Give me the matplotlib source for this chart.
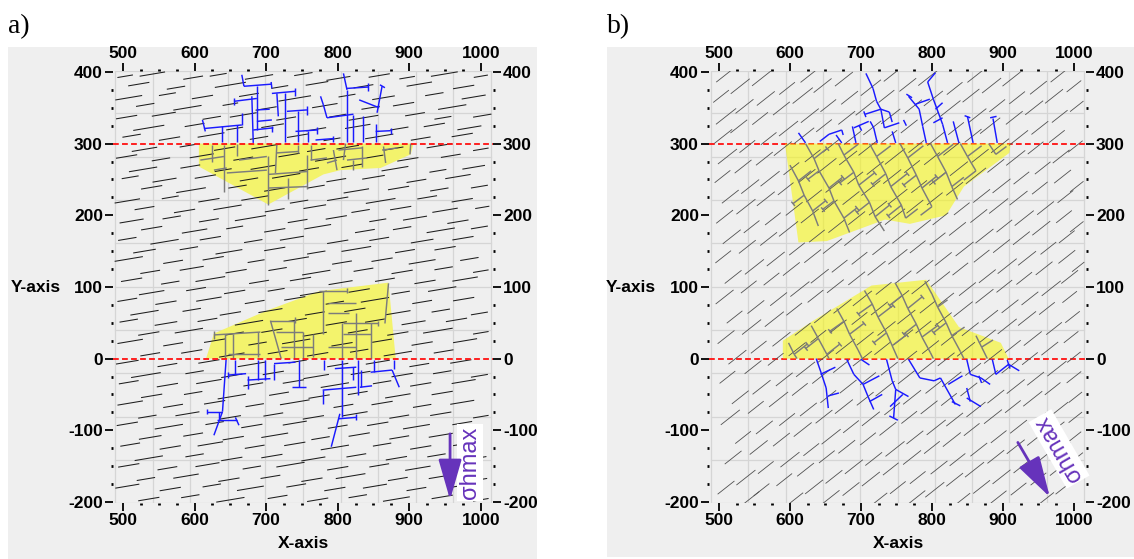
import numpy as np
import matplotlib
matplotlib.use("Agg")
import matplotlib.pyplot as plt
from matplotlib.collections import LineCollection
from matplotlib.patches import Polygon, Rectangle
from matplotlib.ticker import FixedLocator, MultipleLocator

W, H = 1134, 559
BG = "#efefef"
GRID_C = "#d5d5d5"
YELLOW_A = "#f3f36c"
YELLOW_B = "#f6f618"
BLUE = "#1a1aff"
NET_GRAY = "#7c7c7c"
RED = "#ff1010"
PURPLE = "#6633bb"

XLIM = (486, 1017)
YLIM = (-201.5, 402)
XTICKS = [500, 600, 700, 800, 900, 1000]
YTICKS = [-200, -100, 0, 100, 200, 300, 400]
GRID_X = [489, 541.5, 594, 646.5, 699, 751.5, 804, 856.5, 909, 961.5, 1014]
GRID_Y = [-201.5, -141, -80.8, -20.4, 40, 100.4, 160.8, 221.2, 281.6, 342, 402]
WELL_Y = [300, 0]

# natural fractures: centre x, centre y, length
NF_A_ANGLE = 9.5
NF_A = [
    (503, 394, 22), (541, 397, 36), (598, 392, 28), (633, 396, 24), (690, 393, 40), (752, 397, 26), (801, 391, 34), (858, 395, 30), (897, 392, 22), (949, 397, 38), (1000, 394, 20),
    (522, 383, 30), (574, 378, 26), (650, 382, 44), (719, 379, 24), (771, 384, 32), (836, 380, 28), (914, 383, 36), (976, 379, 30),
    (508, 364, 38), (562, 369, 24), (611, 365, 30), (676, 368, 28), (740, 363, 46), (813, 367, 24), (864, 364, 32), (935, 369, 26), (990, 365, 34),
    (531, 354, 26), (590, 350, 40), (650, 355, 22), (700, 349, 30), (782, 353, 36), (846, 350, 26), (892, 355, 30), (960, 351, 40),
    (505, 337, 30), (557, 341, 34), (624, 336, 26), (668, 340, 38), (728, 335, 28), (800, 339, 24), (836, 336, 42), (908, 341, 28), (947, 336, 24), (1002, 339, 26),
    (536, 322, 44), (600, 326, 28), (656, 321, 24), (709, 325, 32), (770, 320, 28), (828, 324, 36), (886, 321, 26), (935, 326, 30), (984, 322, 34),
    (512, 311, 26), (565, 307, 30), (623, 312, 38), (690, 308, 26), (744, 311, 30), (792, 306, 24), (858, 310, 40), (916, 307, 28), (974, 312, 30),
    (530, 292, 36), (590, 297, 22), (642, 293, 30), (700, 296, 42), (770, 291, 26), (814, 295, 32), (878, 293, 28), (942, 297, 36), (1000, 292, 22),
    (505, 282, 30), (553, 278, 26), (610, 283, 34), (668, 279, 28), (732, 284, 30), (790, 279, 44), (852, 282, 24), (898, 278, 30), (958, 283, 28),
    (528, 264, 40), (594, 268, 28), (640, 263, 24), (696, 267, 36), (760, 264, 28), (820, 269, 30), (880, 265, 38), (940, 262, 24), (990, 267, 32),
    (510, 253, 24), (558, 249, 34), (615, 254, 30), (676, 250, 26), (728, 255, 40), (798, 249, 28), (850, 253, 32), (910, 248, 28), (968, 254, 36),
    (540, 239, 30), (595, 235, 42), (660, 240, 26), (712, 236, 30), (770, 240, 24), (826, 234, 36), (885, 238, 30), (942, 236, 26), (998, 240, 24),
    (506, 220, 36), (566, 225, 24), (620, 221, 30), (684, 224, 38), (746, 219, 26), (800, 223, 30), (860, 220, 42), (925, 225, 28), (974, 221, 30),
    (530, 210, 28), (586, 206, 30), (646, 211, 40), (712, 207, 28), (768, 212, 32), (832, 206, 26), (888, 210, 30), (950, 207, 36), (1002, 211, 20),
    (512, 192, 34), (568, 197, 26), (620, 193, 28), (678, 196, 44), (744, 192, 28), (798, 197, 30), (856, 193, 24), (908, 196, 34), (968, 191, 30),
    (540, 182, 30), (600, 178, 36), (656, 183, 24), (712, 179, 30), (772, 184, 38), (838, 178, 28), (890, 182, 26), (944, 179, 40), (998, 183, 24),
    (506, 167, 26), (558, 163, 40), (622, 168, 30), (682, 164, 26), (736, 168, 34), (800, 163, 30), (858, 167, 28), (918, 164, 32), (975, 168, 30),
    (530, 150, 32), (592, 154, 26), (648, 149, 38), (712, 153, 30), (770, 148, 26), (826, 153, 42), (894, 150, 28), (950, 154, 30),
    (508, 139, 40), (570, 135, 28), (626, 140, 30), (686, 136, 24), (742, 139, 36), (806, 134, 28), (862, 138, 30), (918, 135, 38), (984, 139, 26),
    (538, 121, 28), (596, 126, 34), (658, 122, 30), (716, 125, 26), (770, 120, 40), (836, 124, 28), (890, 121, 30), (948, 126, 26), (1000, 122, 22),
    (512, 110, 30), (566, 106, 26), (622, 111, 42), (690, 107, 28), (748, 111, 30), (804, 106, 34), (866, 110, 28), (922, 107, 30), (978, 111, 36),
    (540, 92, 36), (602, 97, 28), (656, 93, 30), (714, 96, 24), (766, 91, 38), (830, 95, 30), (888, 92, 26), (946, 97, 40),
    (506, 82, 28), (560, 78, 30), (620, 83, 36), (684, 79, 28), (740, 84, 30), (796, 78, 26), (852, 82, 40), (918, 79, 28), (976, 83, 30),
    (530, 64, 40), (596, 68, 26), (650, 63, 30), (706, 67, 34), (768, 63, 28), (824, 68, 30), (884, 64, 36), (944, 67, 26), (998, 63, 24),
    (508, 53, 26), (560, 49, 32), (618, 54, 28), (676, 50, 40), (744, 54, 26), (798, 49, 30), (852, 53, 28), (906, 50, 34), (966, 54, 30),
    (536, 35, 30), (592, 39, 40), (656, 35, 26), (708, 39, 30), (768, 34, 34), (828, 38, 28), (884, 35, 30), (940, 39, 42), (1000, 36, 22),
    (510, 24, 36), (570, 20, 28), (628, 25, 30), (688, 21, 26), (742, 24, 40), (806, 20, 30), (862, 25, 28), (918, 21, 30), (978, 25, 34),
    (538, 6, 28), (596, 10, 30), (652, 5, 36), (716, 9, 28), (772, 6, 30), (830, 11, 26), (884, 7, 40), (948, 10, 28),
    (506, -5, 32), (562, -9, 28), (620, -4, 30), (680, -8, 40), (744, -4, 26), (800, -9, 30), (856, -5, 34), (914, -9, 28), (972, -4, 30),
    (532, -23, 42), (600, -19, 26), (652, -24, 30), (710, -20, 30), (770, -25, 36), (832, -20, 28), (890, -23, 30), (946, -19, 26), (998, -24, 24),
    (508, -33, 28), (562, -37, 30), (620, -32, 36), (682, -36, 28), (738, -32, 30), (796, -37, 40), (862, -33, 26), (916, -36, 30), (976, -32, 34),
    (540, -52, 30), (598, -48, 26), (652, -53, 40), (718, -49, 28), (774, -53, 30), (828, -48, 28), (884, -52, 36), (946, -48, 30),
    (510, -62, 36), (570, -66, 28), (628, -61, 30), (684, -65, 26), (740, -61, 42), (808, -66, 28), (862, -62, 30), (918, -66, 26), (974, -61, 34),
    (534, -81, 26), (590, -77, 34), (650, -82, 30), (710, -78, 28), (766, -82, 30), (824, -77, 36), (886, -81, 28), (944, -77, 30), (1000, -81, 22),
    (506, -91, 30), (564, -95, 40), (628, -90, 26), (680, -94, 30), (740, -90, 34), (800, -95, 28), (856, -91, 30), (910, -95, 38), (974, -90, 28),
    (538, -110, 32), (598, -106, 28), (654, -111, 30), (712, -107, 38), (776, -111, 26), (830, -106, 30), (886, -110, 28), (944, -107, 34),
    (510, -120, 28), (566, -124, 30), (622, -119, 36), (684, -123, 28), (740, -119, 30), (796, -124, 40), (862, -120, 26), (916, -124, 30), (976, -119, 30),
    (536, -139, 40), (600, -135, 26), (652, -140, 30), (708, -136, 30), (766, -140, 34), (826, -135, 28), (882, -139, 30), (938, -135, 26), (994, -139, 28),
    (508, -149, 30), (562, -153, 28), (618, -148, 34), (680, -152, 26), (734, -148, 40), (800, -153, 30), (858, -149, 28), (912, -153, 36), (974, -148, 30),
    (532, -168, 26), (588, -164, 36), (648, -169, 30), (706, -165, 28), (764, -169, 30), (818, -164, 42), (884, -168, 28), (942, -165, 30), (998, -169, 22),
    (506, -178, 34), (566, -182, 30), (624, -177, 26), (678, -181, 38), (742, -177, 28), (796, -182, 30), (852, -178, 34), (910, -182, 28), (968, -178, 30),
    (536, -196, 30), (594, -192, 26), (650, -197, 40), (716, -193, 28), (772, -197, 30), (828, -192, 26), (882, -196, 38), (946, -193, 30), (1000, -197, 22),
]

NF_B_ANGLE = 38
NF_B = [
    (508, 395, 30), (560, 391, 34), (626, 394, 28), (676, 390, 32), (744, 396, 30), (795, 392, 36), (861, 394, 28), (912, 390, 32), (979, 395, 30),
    (530, 380, 34), (596, 377, 28), (646, 381, 32), (714, 378, 36), (766, 382, 30), (832, 377, 28), (884, 381, 34), (950, 378, 30), (1000, 380, 26),
    (503, 366, 28), (566, 363, 32), (618, 367, 36), (684, 364, 30), (736, 366, 28), (802, 363, 34), (855, 367, 30), (920, 364, 28), (972, 366, 32),
    (536, 352, 32), (588, 349, 30), (654, 353, 28), (706, 350, 34), (774, 352, 30), (826, 349, 36), (892, 353, 28), (944, 350, 32), (1004, 352, 24),
    (510, 338, 36), (558, 335, 28), (628, 339, 32), (680, 336, 30), (742, 338, 34), (798, 335, 28), (864, 339, 32), (916, 336, 30), (980, 338, 28),
    (528, 324, 30), (598, 321, 34), (648, 325, 28), (716, 322, 32), (768, 324, 30), (834, 321, 28), (882, 325, 36), (952, 322, 30),
    (506, 310, 32), (570, 307, 28), (620, 311, 36), (688, 308, 30), (740, 310, 28), (806, 307, 32), (858, 311, 30), (922, 308, 34), (976, 310, 28),
    (540, 296, 28), (590, 293, 32), (658, 297, 30), (710, 294, 34), (778, 296, 28), (828, 293, 30), (896, 297, 32), (946, 294, 28), (1002, 296, 26),
    (512, 282, 34), (564, 279, 30), (632, 283, 28), (682, 280, 32), (748, 282, 36), (800, 279, 28), (868, 283, 30), (918, 280, 34), (982, 282, 30),
    (534, 268, 30), (602, 265, 28), (652, 269, 34), (720, 266, 30), (772, 268, 28), (838, 265, 32), (890, 269, 30), (956, 266, 28),
    (505, 254, 28), (572, 251, 34), (624, 255, 30), (692, 252, 28), (744, 254, 32), (808, 251, 30), (862, 255, 36), (926, 252, 28), (984, 254, 30),
    (544, 240, 32), (594, 237, 28), (662, 241, 30), (714, 238, 34), (782, 240, 28), (832, 237, 30), (898, 241, 32), (952, 238, 28), (1004, 240, 24),
    (516, 226, 30), (566, 223, 32), (634, 227, 28), (686, 224, 30), (752, 226, 34), (804, 223, 28), (870, 227, 30), (922, 224, 32), (988, 226, 28),
    (538, 212, 34), (606, 209, 30), (656, 213, 28), (724, 210, 32), (776, 212, 30), (842, 209, 28), (894, 213, 34), (960, 210, 30),
    (508, 198, 30), (576, 195, 28), (628, 199, 32), (694, 196, 30), (748, 198, 36), (812, 195, 28), (866, 199, 30), (930, 196, 34), (986, 198, 28),
    (546, 184, 28), (598, 181, 34), (666, 185, 30), (718, 182, 28), (786, 184, 32), (836, 181, 30), (902, 185, 28), (954, 182, 32), (1004, 184, 24),
    (518, 170, 32), (570, 167, 30), (638, 171, 28), (690, 168, 34), (756, 170, 30), (808, 167, 28), (874, 171, 32), (926, 168, 30), (990, 170, 28),
    (540, 156, 30), (610, 153, 28), (660, 157, 34), (728, 154, 30), (780, 156, 28), (846, 153, 32), (898, 157, 30), (964, 154, 28),
    (506, 142, 28), (580, 139, 32), (632, 143, 30), (698, 140, 28), (752, 142, 34), (816, 139, 30), (870, 143, 28), (934, 140, 32), (990, 142, 30),
    (550, 128, 34), (602, 125, 30), (670, 129, 28), (722, 126, 32), (790, 128, 30), (840, 125, 28), (906, 129, 34), (958, 126, 30), (1006, 128, 22),
    (520, 114, 30), (574, 111, 28), (642, 115, 32), (694, 112, 30), (760, 114, 28), (812, 111, 34), (878, 115, 30), (930, 112, 28), (994, 114, 30),
    (542, 100, 28), (614, 97, 34), (664, 101, 30), (732, 98, 28), (784, 100, 32), (850, 97, 30), (902, 101, 28), (968, 98, 34),
    (508, 86, 32), (584, 83, 30), (636, 87, 28), (702, 84, 34), (756, 86, 30), (820, 83, 28), (874, 87, 32), (938, 84, 30), (994, 86, 26),
    (552, 72, 30), (606, 69, 28), (674, 73, 32), (726, 70, 30), (794, 72, 28), (844, 69, 34), (910, 73, 30), (962, 70, 28),
    (522, 58, 28), (578, 55, 34), (646, 59, 30), (698, 56, 28), (764, 58, 32), (816, 55, 30), (882, 59, 28), (934, 56, 32), (998, 58, 26),
    (546, 44, 34), (618, 41, 28), (668, 45, 30), (736, 42, 32), (788, 44, 28), (854, 41, 30), (906, 45, 34), (972, 42, 28),
    (510, 30, 30), (588, 27, 32), (640, 31, 28), (706, 28, 30), (760, 30, 34), (824, 27, 28), (878, 31, 30), (942, 28, 32), (996, 30, 26),
    (556, 16, 28), (610, 13, 30), (678, 17, 34), (730, 14, 28), (798, 16, 30), (848, 13, 32), (914, 17, 28), (966, 14, 30),
    (526, 2, 32), (580, -1, 28), (650, 3, 30), (702, 0, 34), (768, 2, 28), (820, -1, 30), (886, 3, 32), (938, 0, 28), (1000, 2, 24),
    (548, -12, 30), (622, -15, 34), (672, -11, 28), (740, -14, 30), (792, -12, 32), (858, -15, 28), (910, -11, 30), (976, -14, 34),
    (512, -26, 28), (592, -29, 30), (644, -25, 32), (710, -28, 28), (764, -26, 30), (828, -29, 34), (882, -25, 28), (946, -28, 30), (1000, -26, 26),
    (560, -40, 32), (614, -43, 28), (682, -39, 30), (734, -42, 34), (802, -40, 28), (852, -43, 30), (918, -39, 32), (970, -42, 28),
    (530, -54, 30), (584, -57, 34), (654, -53, 28), (706, -56, 30), (772, -54, 32), (824, -57, 28), (890, -53, 30), (942, -56, 34), (1002, -54, 24),
    (552, -68, 28), (626, -71, 30), (676, -67, 32), (744, -70, 28), (796, -68, 30), (862, -71, 34), (914, -67, 28), (980, -70, 30),
    (516, -82, 34), (596, -85, 28), (648, -81, 30), (714, -84, 32), (768, -82, 28), (832, -85, 30), (886, -81, 32), (950, -84, 28), (1002, -82, 24),
    (564, -96, 30), (618, -99, 32), (686, -95, 28), (738, -98, 30), (806, -96, 34), (856, -99, 28), (922, -95, 30), (974, -98, 32),
    (534, -110, 28), (588, -113, 30), (658, -109, 34), (710, -112, 28), (776, -110, 30), (828, -113, 32), (894, -109, 28), (946, -112, 30), (1000, -110, 26),
    (556, -124, 32), (630, -127, 28), (680, -123, 30), (748, -126, 34), (800, -124, 28), (866, -127, 30), (918, -123, 32), (984, -126, 28),
    (520, -138, 30), (600, -141, 34), (652, -137, 28), (718, -140, 30), (772, -138, 32), (836, -141, 28), (890, -137, 30), (954, -140, 34), (1004, -138, 22),
    (566, -152, 28), (622, -155, 30), (690, -151, 32), (742, -154, 28), (810, -152, 30), (860, -155, 34), (926, -151, 28), (978, -154, 30),
    (538, -166, 34), (592, -169, 28), (662, -165, 30), (714, -168, 32), (780, -166, 28), (832, -169, 30), (898, -165, 32), (950, -168, 28),
    (510, -180, 30), (560, -183, 28), (634, -179, 32), (686, -182, 30), (752, -180, 28), (804, -183, 34), (870, -179, 30), (922, -182, 28), (986, -180, 30),
    (546, -194, 28), (606, -197, 32), (658, -193, 30), (726, -196, 28), (778, -194, 32), (842, -197, 30), (894, -193, 28), (960, -196, 30),
]

# stimulated areas
A_POLY_TOP = [(606, 300), (906, 300), (902, 285), (860, 266), (804, 263), (780, 257), (703, 215), (606, 268)]
A_POLY_BOT = [(616, 0), (627, 35), (701, 67), (774, 94), (871, 106), (881, 0)]
B_POLY_TOP = [(593, 300), (911, 300), (909, 287), (845, 240), (820, 200), (769, 188), (734, 194), (652, 164), (612, 162)]
B_POLY_BOT = [(590, 0), (590, 25), (633, 53), (680, 81), (715, 102), (792, 110), (838, 44), (897, 22), (908, 0)]

# fracture networks: x0, y0, x1, y1
A_TOP_BLUE = [
    (666, 396, 669, 380), (669, 380, 708, 383), (707, 386, 708, 377), (687, 380, 687, 319), (680, 366, 682, 301),
    (655, 359, 687, 363), (655, 364, 655, 354), (687, 347, 705, 348), (613, 321, 666, 326), (611, 333, 615, 317),
    (638, 324, 638, 302), (659, 326, 659, 302), (666, 326, 666, 343), (687, 331, 708, 333), (682, 319, 710, 322),
    (708, 325, 708, 316), (715, 370, 717, 338), (727, 370, 727, 302), (708, 370, 741, 373), (741, 378, 741, 367),
    (729, 345, 757, 347), (757, 352, 757, 340), (745, 345, 745, 302), (741, 317, 771, 319), (771, 323, 771, 314),
    (759, 317, 759, 302), (769, 305, 794, 307), (794, 311, 794, 302), (776, 366, 780, 354), (780, 354, 785, 336),
    (785, 336, 822, 341), (808, 398, 813, 375), (813, 375, 813, 302), (813, 377, 843, 379), (843, 384, 843, 374),
    (830, 361, 858, 350), (862, 380, 855, 343), (859, 382, 866, 378), (822, 340, 822, 302), (836, 338, 836, 302),
    (853, 317, 874, 318), (874, 322, 874, 313), (853, 328, 853, 302),
]
A_TOP_GRAY = [
    (624, 298, 624, 275), (608, 277, 641, 282), (641, 298, 641, 233), (627, 263, 645, 266), (659, 300, 659, 282),
    (662, 277, 701, 282), (645, 259, 701, 263), (703, 282, 703, 215), (703, 257, 757, 261), (731, 252, 731, 222),
    (703, 238, 757, 240), (757, 284, 757, 236), (715, 287, 745, 289), (715, 300, 713, 259), (745, 298, 745, 287),
    (762, 298, 762, 277), (762, 277, 785, 280), (794, 291, 799, 263), (785, 273, 799, 277), (801, 291, 834, 294),
    (811, 300, 808, 277), (834, 296, 834, 268), (813, 277, 841, 280), (864, 296, 867, 273), (862, 291, 883, 294),
    (822, 277, 822, 263), (902, 300, 901, 285),
]
A_BOT_BLUE = [
    (644, -2, 639, -74), (639, -74, 627, -107), (617, -74, 639, -74), (617, -70, 617, -78), (632, -86, 659, -86),
    (657, -82, 662, -93), (634, -74, 634, -86), (657, -2, 657, -23), (647, -23, 672, -21), (647, -19, 647, -27),
    (689, -2, 689, -30), (674, -30, 706, -28), (674, -24, 674, -42), (699, -2, 699, -30), (711, -7, 741, -5),
    (711, -7, 711, -30), (746, -2, 746, -40), (736, -40, 756, -40), (781, -2, 781, -16), (806, -2, 806, -81),
    (796, -14, 826, -12), (779, -44, 826, -40), (779, -44, 779, -63), (803, -77, 791, -123), (801, -84, 826, -82),
    (826, -78, 826, -86), (828, -2, 828, -51), (831, -40, 848, -38), (833, -16, 833, -40), (851, -2, 851, -19),
    (846, -19, 876, -16), (878, -2, 878, -14), (876, -16, 886, -40), (821, -12, 821, -30),
]
A_BOT_GRAY = [
    (642, 0, 642, 35), (627, 33, 692, 37), (654, 0, 654, 35), (627, 28, 627, 38), (647, 7, 692, 7), (689, 37, 689, 2),
    (706, 53, 721, 0), (706, 53, 741, 53), (741, 49, 741, 58), (714, 37, 751, 37), (721, 16, 766, 16), (739, 53, 739, 0),
    (751, 37, 751, 0), (766, 35, 766, 2), (779, 95, 779, 35), (774, 95, 813, 95), (813, 91, 813, 99), (786, 77, 826, 77),
    (786, 63, 816, 63), (808, 49, 856, 49), (806, 49, 806, 0), (786, 16, 826, 16), (826, 63, 826, 0), (846, 49, 846, 0),
    (871, 105, 866, 49), (808, 35, 846, 35), (856, 45, 856, 53),
]
B_TOP_BLUE = [
    (612, 315, 622, 301), (642, 303, 655, 313), (655, 313, 673, 319), (673, 319, 675, 312), (665, 312, 673, 301),
    (688, 324, 693, 301), (690, 322, 711, 331), (707, 398, 717, 377), (717, 377, 722, 359), (722, 359, 728, 348),
    (728, 348, 740, 344), (706, 341, 728, 348), (704, 345, 707, 337), (713, 331, 718, 322), (718, 322, 723, 301),
    (733, 322, 754, 329), (744, 317, 749, 301), (764, 369, 772, 364), (767, 366, 782, 348), (777, 355, 797, 362),
    (782, 348, 787, 324), (787, 324, 792, 301), (805, 399, 794, 386), (794, 386, 802, 362), (802, 362, 815, 327),
    (815, 327, 822, 301), (802, 329, 815, 336), (805, 348, 815, 357), (830, 331, 838, 301), (850, 338, 858, 301),
    (846, 339, 854, 336), (886, 335, 892, 301), (882, 336, 891, 338), (740, 344, 744, 330), (728, 348, 733, 322),
    (697, 326, 701, 318), (760, 333, 764, 325),
]
B_TOP_GRAY = [
    (622, 300, 634, 279), (634, 279, 641, 262), (641, 262, 655, 238), (655, 238, 662, 220), (662, 220, 676, 196),
    (676, 196, 684, 176), (634, 279, 652, 293), (641, 262, 625, 250), (655, 238, 674, 253), (662, 220, 646, 208),
    (676, 196, 694, 210), (650, 296, 655, 290), (623, 253, 628, 247), (672, 256, 677, 250), (644, 211, 649, 205),
    (692, 213, 697, 207),
    (668, 300, 676, 284), (676, 284, 690, 260), (690, 260, 697, 242), (697, 242, 712, 218), (712, 218, 720, 198),
    (720, 198, 733, 178), (676, 284, 696, 299), (690, 260, 670, 245), (697, 242, 719, 259), (712, 218, 694, 204),
    (720, 198, 740, 214), (668, 248, 673, 242), (717, 262, 722, 256), (692, 207, 697, 201), (738, 217, 743, 211),
    (712, 300, 722, 282), (722, 282, 735, 258), (735, 258, 742, 240), (742, 240, 757, 214), (757, 214, 763, 196),
    (722, 282, 742, 297), (735, 258, 716, 243), (742, 240, 765, 258), (757, 214, 738, 199), (763, 196, 780, 209),
    (714, 246, 719, 240), (763, 261, 768, 255), (736, 202, 741, 196),
    (755, 300, 766, 280), (766, 280, 778, 256), (778, 256, 786, 238), (786, 238, 800, 212), (766, 280, 788, 297),
    (778, 256, 760, 242), (786, 238, 806, 254), (800, 212, 784, 200), (758, 245, 763, 239), (804, 257, 809, 251),
    (798, 300, 808, 282), (808, 282, 820, 260), (820, 260, 828, 240), (828, 240, 836, 222), (808, 282, 830, 299),
    (820, 260, 802, 246), (828, 240, 845, 253), (800, 249, 805, 243),
    (840, 300, 850, 282), (850, 282, 862, 262), (850, 282, 870, 297), (862, 262, 845, 249), (880, 300, 890, 285),
    (890, 285, 905, 296),
    (600, 270, 612, 248), (612, 248, 620, 228), (620, 228, 632, 206), (632, 206, 640, 185), (612, 248, 630, 262),
    (620, 228, 604, 216), (632, 206, 650, 220), (602, 219, 607, 213), (648, 223, 653, 217),
]
B_BOT_BLUE = [
    (637, 0, 644, -20), (644, -20, 651, -41), (651, -41, 654, -69), (643, -22, 664, -12), (654, -52, 669, -48),
    (680, -1, 690, -22), (690, -22, 703, -36), (703, -36, 710, -53), (710, -53, 718, -71), (703, -36, 726, -24),
    (712, -60, 730, -50), (736, -1, 744, -31), (744, -31, 749, -43), (749, -43, 746, -83), (749, -43, 767, -53),
    (741, -67, 759, -50), (740, -80, 752, -86), (767, -1, 783, -27), (783, -27, 803, -31), (803, -31, 812, -27),
    (812, -27, 833, -64), (823, -36, 843, -24), (828, -60, 840, -66), (849, -1, 854, -22), (854, -22, 869, -27),
    (869, -27, 882, -36), (849, -41, 854, -60), (849, -55, 869, -67), (866, -24, 870, -34), (885, -1, 890, -22),
    (890, -22, 908, -8), (908, -8, 923, -17), (906, -2, 910, -14), (700, -1, 712, -9),
]
B_BOT_GRAY = [
    (598, 22, 606, 6), (606, 6, 610, 0), (606, 6, 624, 20), (622, 23, 627, 17),
    (630, 46, 640, 28), (640, 28, 652, 6), (652, 6, 655, 0), (640, 28, 622, 14), (652, 6, 670, 20),
    (620, 17, 625, 11), (668, 23, 673, 17),
    (666, 70, 676, 52), (676, 52, 684, 34), (684, 34, 696, 12), (696, 12, 702, 0), (676, 52, 656, 38),
    (684, 34, 704, 49), (654, 41, 659, 35), (702, 52, 707, 46),
    (705, 95, 716, 76), (716, 76, 724, 58), (724, 58, 736, 36), (736, 36, 744, 18), (744, 18, 752, 0),
    (716, 76, 696, 62), (724, 58, 745, 74), (736, 36, 718, 22), (744, 18, 764, 33), (694, 65, 699, 59),
    (743, 77, 748, 71), (716, 25, 721, 19), (762, 36, 767, 30),
    (748, 106, 758, 88), (758, 88, 766, 70), (766, 70, 778, 48), (778, 48, 786, 30), (786, 30, 798, 8),
    (798, 8, 802, 0), (758, 88, 740, 74), (766, 70, 786, 86), (778, 48, 760, 34), (786, 30, 808, 46),
    (738, 77, 743, 71), (784, 89, 789, 83), (758, 37, 763, 31), (806, 49, 811, 43),
    (790, 108, 800, 90), (800, 90, 808, 72), (808, 72, 820, 50), (820, 50, 828, 32), (828, 32, 840, 10),
    (840, 10, 845, 0), (808, 72, 822, 82), (820, 50, 802, 36), (828, 32, 846, 44), (800, 39, 805, 33),
    (862, 32, 870, 16), (870, 16, 878, 0), (870, 16, 886, 26),
]

# sigma_hmax arrows: tail, head, label position, label rotation
A_ARROW = ((957, -105), (957, -197), (985, -145), 90)
B_ARROW = ((921, -117), (966, -193), (979, -126), 120)

plt.rcParams["font.family"] = ["Liberation Sans", "DejaVu Sans"]
plt.rcParams["font.weight"] = "bold"
plt.rcParams["axes.unicode_minus"] = False


def nf_segments(nf, angle):
    a = np.array(nf, float)
    t = np.deg2rad(angle)
    dx = a[:, 2] / 2 * np.cos(t)
    dy = a[:, 2] / 2 * np.sin(t)
    p0 = np.c_[a[:, 0] - dx, a[:, 1] - dy]
    p1 = np.c_[a[:, 0] + dx, a[:, 1] + dy]
    return np.stack([p0, p1], axis=1)


def net(segs):
    return np.array(segs, float).reshape(-1, 2, 2)


def panel(ax, nf, angle, nf_color, nf_lw, polys, yellow, blues, grays, arrow, red_on_top):
    ax.set_facecolor(BG)
    ax.set_xlim(*XLIM)
    ax.set_ylim(*YLIM)
    for s in ax.spines.values():
        s.set_visible(False)
    for gx in GRID_X:
        ax.plot([gx, gx], [GRID_Y[0], GRID_Y[-1]], color=GRID_C, lw=0.9, zorder=1)
    for gy in GRID_Y:
        ax.plot([GRID_X[0], GRID_X[-1]], [gy, gy], color=GRID_C, lw=0.9, zorder=1)

    for p in polys:
        if red_on_top:
            ax.add_patch(Polygon(p, closed=True, facecolor=yellow, edgecolor="none", zorder=2))
        else:
            ax.add_patch(Polygon(p, closed=True, facecolor=yellow, edgecolor="none",
                                 alpha=0.6, zorder=2.6))
    ax.add_collection(LineCollection(nf_segments(nf, angle), colors=nf_color,
                                     linewidths=nf_lw, zorder=3))
    for g in grays:
        ax.add_collection(LineCollection(net(g), colors=NET_GRAY, linewidths=1.05, zorder=4))
    for b in blues:
        ax.add_collection(LineCollection(net(b), colors=BLUE, linewidths=1.05, zorder=4))
    for wy in WELL_Y:
        ax.plot(XLIM, [wy, wy], color=RED, lw=1.3, ls=(0, (3.2, 1.8)),
                zorder=5 if red_on_top else 2.5)

    tail, head, lab, rot = arrow
    ax.annotate("", xy=head, xytext=tail,
                arrowprops=dict(arrowstyle="-|>,head_length=1.25,head_width=0.36",
                                color=PURPLE, lw=2, mutation_scale=20, shrinkA=0, shrinkB=0),
                zorder=10)
    ax.text(lab[0], lab[1], "σhmax", rotation=rot, rotation_mode="anchor",
            ha="center", va="center", color=PURPLE, fontsize=17, fontweight="normal",
            bbox=dict(facecolor="white", edgecolor="none", pad=1.5), zorder=9)

    ax.xaxis.set_major_locator(FixedLocator(XTICKS))
    ax.yaxis.set_major_locator(FixedLocator(YTICKS))
    ax.xaxis.set_minor_locator(MultipleLocator(25))
    ax.yaxis.set_minor_locator(MultipleLocator(25))
    ax.tick_params(which="major", direction="out", length=6, width=1.3,
                   top=True, right=True, labeltop=True, labelright=True,
                   labelsize=12.5, pad=1.2)
    ax.tick_params(which="minor", direction="out", length=1.6, width=2,
                   top=True, right=True)


fig = plt.figure(figsize=(W / 100, H / 100), dpi=100)
fig.patches.append(Rectangle((8 / W, 0), 529 / W, 512 / H, transform=fig.transFigure,
                             facecolor=BG, edgecolor="none", zorder=-5))
fig.patches.append(Rectangle((607 / W, 2 / H), 527 / W, 510 / H, transform=fig.transFigure,
                             facecolor=BG, edgecolor="none", zorder=-5))

ax_a = fig.add_axes([113 / W, 56 / H, 380 / W, 432.5 / H])
ax_b = fig.add_axes([709 / W, 56 / H, 377 / W, 432.5 / H])

panel(ax_a, NF_A, NF_A_ANGLE, "#1e1e1e", 0.75, [A_POLY_TOP, A_POLY_BOT], YELLOW_A,
      [A_TOP_BLUE, A_BOT_BLUE], [A_TOP_GRAY, A_BOT_GRAY], A_ARROW, True)
panel(ax_b, NF_B, NF_B_ANGLE, "#505050", 0.6, [B_POLY_TOP, B_POLY_BOT], YELLOW_B,
      [B_TOP_BLUE, B_BOT_BLUE], [B_TOP_GRAY, B_BOT_GRAY], B_ARROW, False)

for x0, lab in ((8, "a)"), (607, "b)")):
    fig.text(x0 / W, 1 - 27 / H, lab, family="Liberation Serif", fontweight="normal",
             fontsize=20, ha="left", va="center")
for x0 in (11, 606):
    fig.text(x0 / W, 1 - 287 / H, "Y-axis", fontsize=12.5, ha="left", va="center")
for xc in (303, 898):
    fig.text(xc / W, 1 - 543 / H, "X-axis", fontsize=12.5, ha="center", va="center")

fig.savefig("out.png", dpi=100, facecolor="white")
